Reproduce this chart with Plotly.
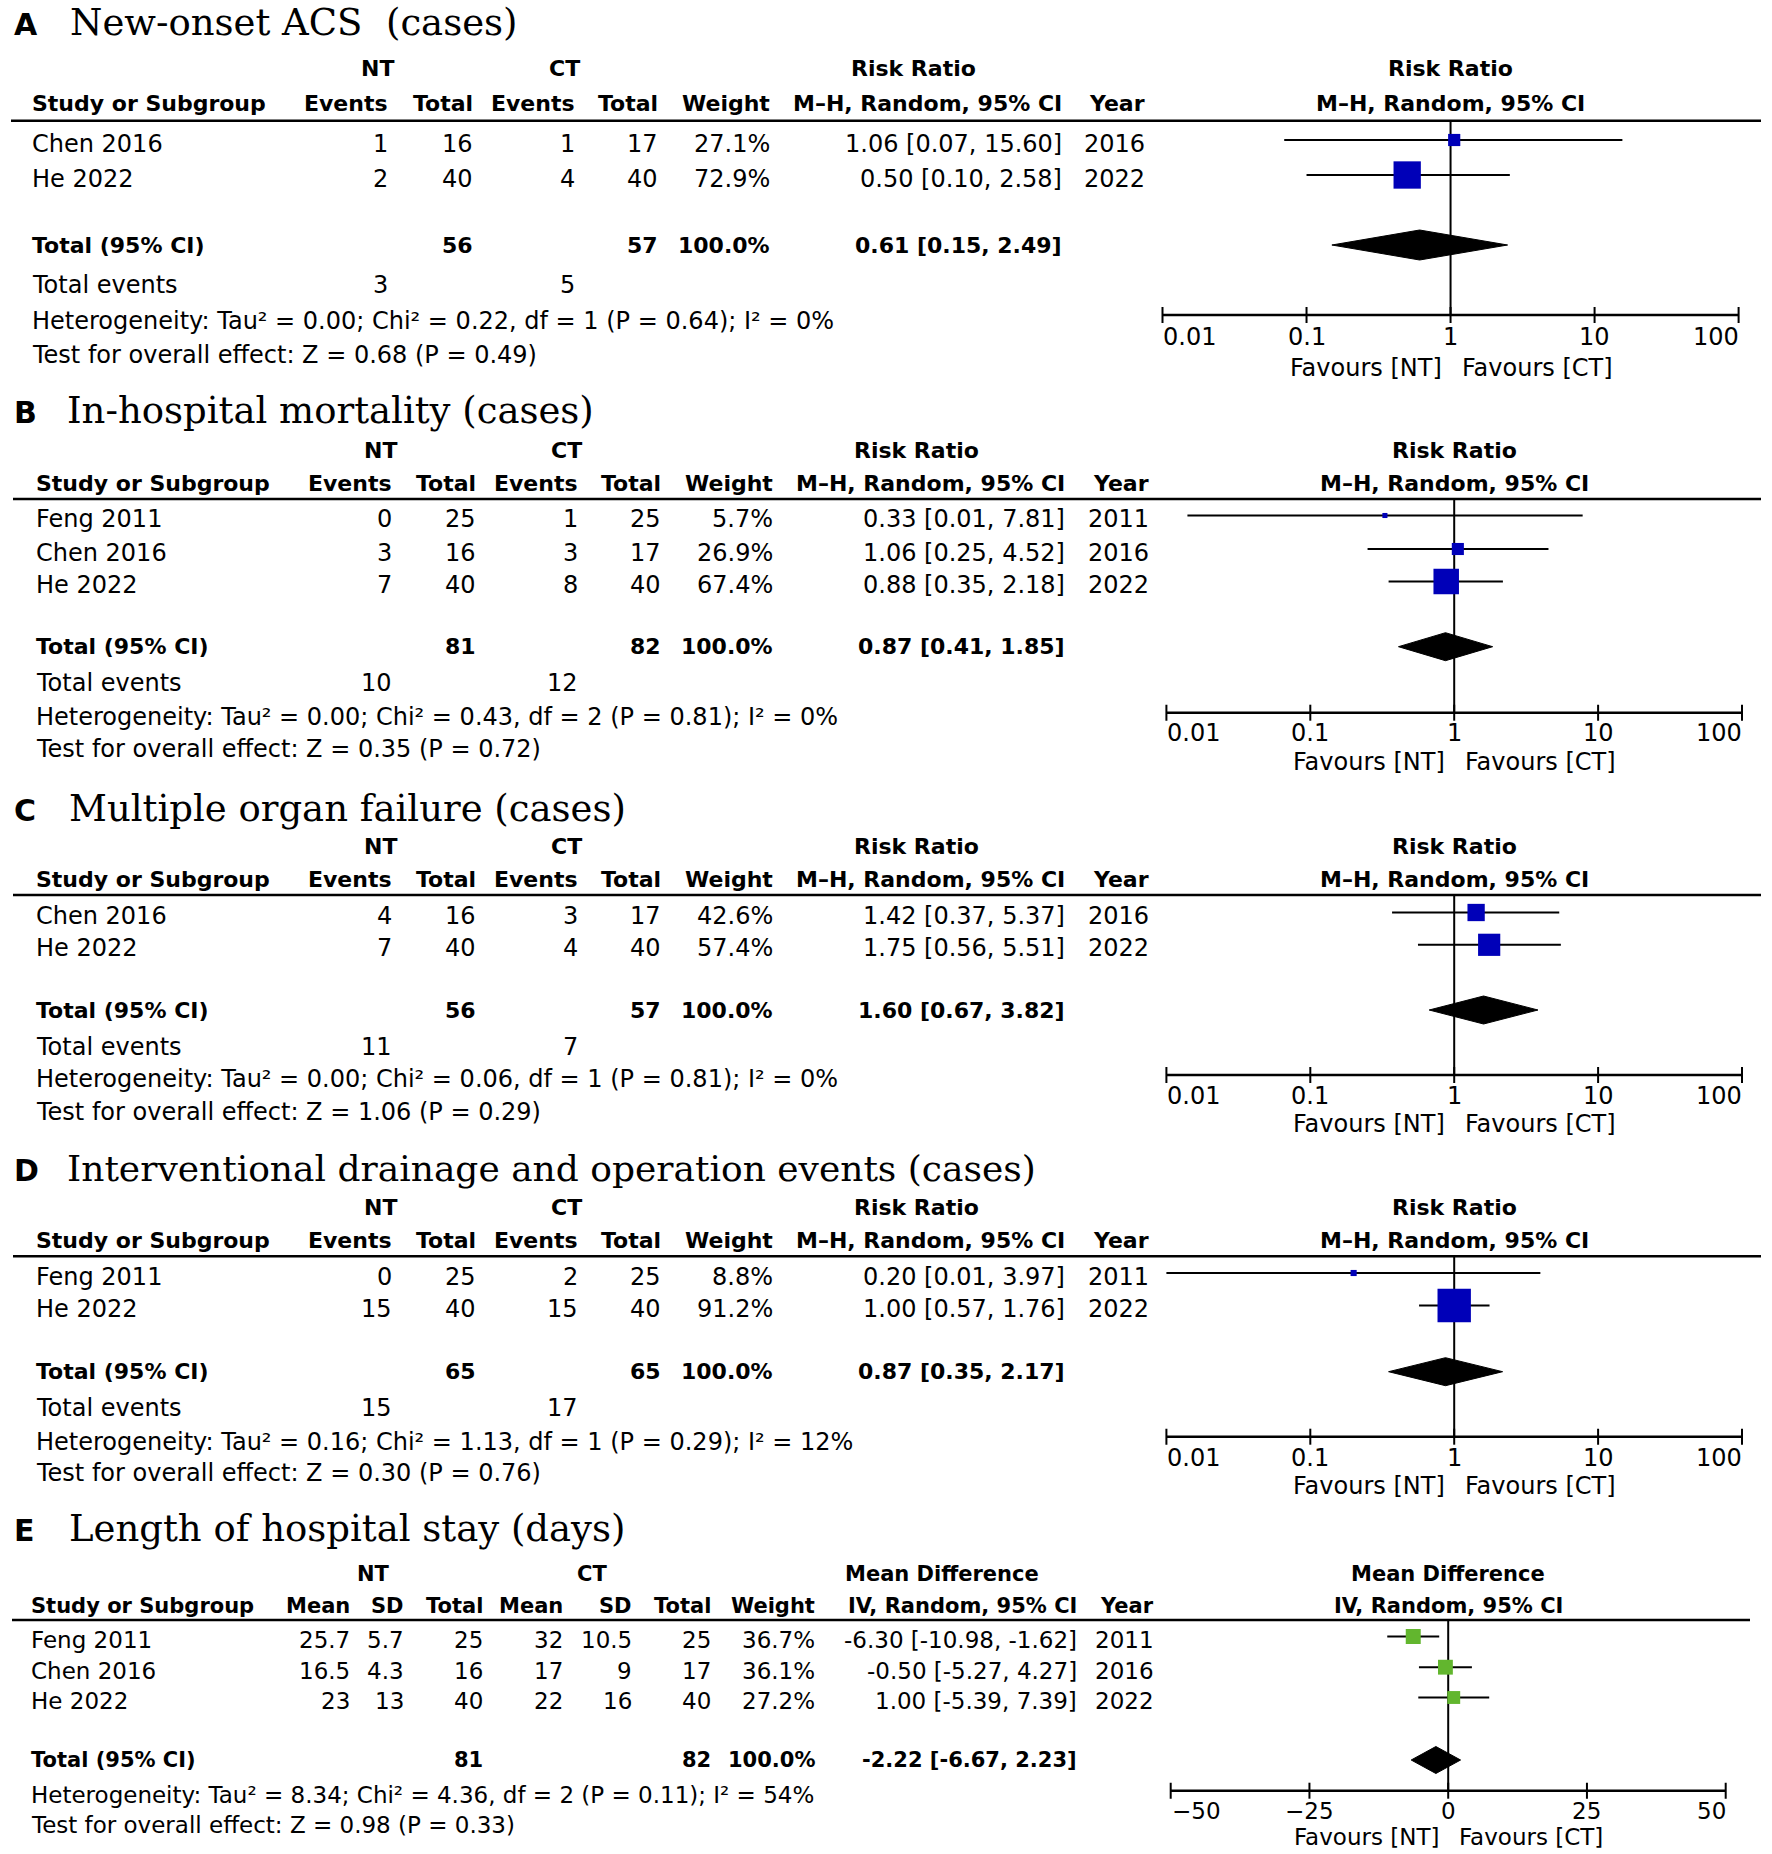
import math
import plotly.graph_objects as go

W, H = 1772, 1854
FONT = "DejaVu Sans"
SERIF = "DejaVu Serif"
BLUE = "#0000b8"
GREEN = "#62b62e"
SIZES = {"reg": 24, "bold": 22}
RSHIFT = 4.5   # right-anchored texts: compensate the annotation box padding

# ---------------- data ----------------
RR_TICKS = [0.01, 0.1, 1, 10, 100]
RR_TICK_LABELS = ["0.01", "0.1", "1", "10", "100"]
MD_TICKS = [-50, -25, 0, 25, 50]
MD_TICK_LABELS = ["\u221250", "\u221225", "0", "25", "50"]

A_title = "New-onset ACS\u00a0\u00a0(cases)"
A_study = ["Chen 2016", "He 2022"]
A_nt_ev = [1, 2]
A_nt_n = [16, 40]
A_ct_ev = [1, 4]
A_ct_n = [17, 40]
A_weight = [27.1, 72.9]
A_rr = [1.06, 0.50]
A_lo = [0.07, 0.10]
A_hi = [15.60, 2.58]
A_year = [2016, 2022]
A_pool = [0.61, 0.15, 2.49]
A_het = "Heterogeneity: Tau\u00b2 = 0.00; Chi\u00b2 = 0.22, df = 1 (P = 0.64); I\u00b2 = 0%"
A_test = "Test for overall effect: Z = 0.68 (P = 0.49)"

B_title = "In-hospital mortality (cases)"
B_study = ["Feng 2011", "Chen 2016", "He 2022"]
B_nt_ev = [0, 3, 7]
B_nt_n = [25, 16, 40]
B_ct_ev = [1, 3, 8]
B_ct_n = [25, 17, 40]
B_weight = [5.7, 26.9, 67.4]
B_rr = [0.33, 1.06, 0.88]
B_lo = [0.014, 0.25, 0.35]
B_hi = [7.81, 4.52, 2.18]
B_year = [2011, 2016, 2022]
B_pool = [0.87, 0.41, 1.85]
B_het = "Heterogeneity: Tau\u00b2 = 0.00; Chi\u00b2 = 0.43, df = 2 (P = 0.81); I\u00b2 = 0%"
B_test = "Test for overall effect: Z = 0.35 (P = 0.72)"

C_title = "Multiple organ failure (cases)"
C_study = ["Chen 2016", "He 2022"]
C_nt_ev = [4, 7]
C_nt_n = [16, 40]
C_ct_ev = [3, 4]
C_ct_n = [17, 40]
C_weight = [42.6, 57.4]
C_rr = [1.42, 1.75]
C_lo = [0.37, 0.56]
C_hi = [5.37, 5.51]
C_year = [2016, 2022]
C_pool = [1.60, 0.67, 3.82]
C_het = "Heterogeneity: Tau\u00b2 = 0.00; Chi\u00b2 = 0.06, df = 1 (P = 0.81); I\u00b2 = 0%"
C_test = "Test for overall effect: Z = 1.06 (P = 0.29)"

D_title = "Interventional drainage and operation events (cases)"
D_study = ["Feng 2011", "He 2022"]
D_nt_ev = [0, 15]
D_nt_n = [25, 40]
D_ct_ev = [2, 15]
D_ct_n = [25, 40]
D_weight = [8.8, 91.2]
D_rr = [0.20, 1.00]
D_lo = [0.01, 0.57]
D_hi = [3.97, 1.76]
D_year = [2011, 2022]
D_pool = [0.87, 0.35, 2.17]
D_het = "Heterogeneity: Tau\u00b2 = 0.16; Chi\u00b2 = 1.13, df = 1 (P = 0.29); I\u00b2 = 12%"
D_test = "Test for overall effect: Z = 0.30 (P = 0.76)"

E_title = "Length of hospital stay (days)"
E_study = ["Feng 2011", "Chen 2016", "He 2022"]
E_nt_mean = [25.7, 16.5, 23]
E_nt_sd = [5.7, 4.3, 13]
E_nt_n = [25, 16, 40]
E_ct_mean = [32, 17, 22]
E_ct_sd = [10.5, 9, 16]
E_ct_n = [25, 17, 40]
E_weight = [36.7, 36.1, 27.2]
E_md = [-6.30, -0.50, 1.00]
E_lo = [-10.98, -5.27, -5.39]
E_hi = [-1.62, 4.27, 7.39]
E_year = [2011, 2016, 2022]
E_pool = [-2.22, -6.67, 2.23]
E_het = "Heterogeneity: Tau\u00b2 = 8.34; Chi\u00b2 = 4.36, df = 2 (P = 0.11); I\u00b2 = 54%"
E_test = "Test for overall effect: Z = 0.98 (P = 0.33)"

# ---------------- layout positions (pixels) ----------------
POS = {
    "A": dict(title=22.5, h1=68, h2=103.5, line=120.7, rows=[143.5, 178.5], total=245,
              events=285, het=321, test=355, axis=315, ticklab=337, fav=368, dh=15),
    "B": dict(title=410, h1=450.7, h2=483, line=499, rows=[519, 552.5, 585], total=646.7,
              events=683.3, het=716.5, test=749.3, axis=712.7, ticklab=733.3, fav=761.7, dh=14),
    "C": dict(title=808.3, h1=846.7, h2=879, line=895, rows=[916, 948.3], total=1010,
              events=1046.7, het=1079, test=1111.7, axis=1075, ticklab=1095.7, fav=1124, dh=14),
    "D": dict(title=1168.3, h1=1207.3, h2=1240, line=1256.3, rows=[1276.5, 1309], total=1371.7,
              events=1408.3, het=1441.7, test=1473.3, axis=1436.7, ticklab=1458.3, fav=1486, dh=14),
    "E": dict(title=1528.3, h1=1574, h2=1606, line=1620, rows=[1640, 1670.7, 1701], total=1760,
              events=None, het=1795, test=1825, axis=1790.7, ticklab=1810.7, fav=1836.7, dh=13.5),
}
COLS_A = dict(study=29.8, c=[385.7, 470.5, 572, 655.6], weight=767.5, ci=1059, year=1142,
              nt=377.7, ct=564.3, hdr=913, letter=12, title=67.7, tsize=37, l0=11, l1=1761,
              ax0=1162.5, ax1=1738.6)
COLS_BCD = dict(study=33.7, c=[389.5, 473, 575, 658], weight=770.5, ci=1062.5, year=1146,
                nt=380.3, ct=566.3, hdr=916, letter=11.5, title=65, tsize=37, l0=13, l1=1761,
                ax0=1166.4, ax1=1742)
COLS_E = dict(study=29, c=[347, 401, 480, 560, 629, 708], weight=812, ci=1074, year=1151,
              nt=373, ct=592, hdr=942, letter=11.5, title=67.3, tsize=37, l0=12, l1=1750,
              ax0=1170.7, ax1=1725.7)

MARK_DY = -3.5

fig = go.Figure()
annotations = []
shapes = []
axes = {}


def T(x, y, s, anchor="left", bold=False, size=None, family=FONT, xref="paper", xshift=0):
    if size is None:
        size = SIZES["bold"] if bold else SIZES["reg"]
    if bold:
        s = f"<b>{s}</b>"
    if xref == "paper":
        if anchor == "right":
            x += RSHIFT
        x = x / W
    annotations.append(dict(
        x=x, y=y, xref=xref, yref="y", text=s,
        showarrow=False, xanchor=anchor, yanchor="middle", xshift=xshift,
        font=dict(family=family, size=size, color="black")))


def fmt(v):
    return f"{v:g}"


def ci_text(e, l, h):
    return f"{e:.2f} [{l:.2f}, {h:.2f}]"


def forest(idx, kind, pos, cols, est, lo, hi, weight, pool, color, sizefn):
    ax = f"x{idx + 2}"
    if kind == "rr":
        ticks, labels = RR_TICKS, RR_TICK_LABELS
        tr = math.log10
        lo_r, hi_r = -2.0, 2.0
        pad = 0.03
        null = 1
        h1, h2 = "Risk Ratio", "M\u2013H, Random, 95% CI"
        xtype = "log"
    else:
        ticks, labels = MD_TICKS, MD_TICK_LABELS
        tr = lambda v: v
        lo_r, hi_r = -50.0, 50.0
        pad = 0.8
        null = 0
        h1, h2 = "Mean Difference", "IV, Random, 95% CI"
        xtype = "linear"
    ppu = (cols["ax1"] - cols["ax0"]) / (hi_r - lo_r)
    axes[f"xaxis{idx + 2}"] = dict(
        domain=[(cols["ax0"] - pad * ppu) / W, (cols["ax1"] + pad * ppu) / W],
        range=[lo_r - pad, hi_r + pad], type=xtype, visible=False, fixedrange=True,
        anchor="y")
    ay = pos["axis"]
    rows = [r + MARK_DY for r in pos["rows"]]
    # null line
    fig.add_trace(go.Scatter(x=[null, null], y=[pos["line"], ay], mode="lines",
                             line=dict(color="black", width=2), xaxis=ax, yaxis="y",
                             hoverinfo="skip"))
    # axis line
    fig.add_trace(go.Scatter(x=[ticks[0], ticks[-1]], y=[ay, ay], mode="lines",
                             line=dict(color="black", width=2.5), xaxis=ax, yaxis="y",
                             hoverinfo="skip"))
    tx, ty = [], []
    for t in ticks:
        tx += [t, t, None]
        ty += [ay - 8, ay + 8, None]
    fig.add_trace(go.Scatter(x=tx, y=ty, mode="lines", line=dict(color="black", width=2),
                             xaxis=ax, yaxis="y", hoverinfo="skip"))
    # CI lines
    cx, cy = [], []
    for l, h, r in zip(lo, hi, rows):
        cx += [l, h, None]
        cy += [r, r, None]
    fig.add_trace(go.Scatter(x=cx, y=cy, mode="lines", line=dict(color="black", width=2),
                             xaxis=ax, yaxis="y", hoverinfo="skip"))
    # squares
    fig.add_trace(go.Scatter(x=est, y=rows, mode="markers", opacity=1,
                             marker=dict(symbol="square", size=[sizefn(w) for w in weight],
                                         color=color, opacity=1, line=dict(width=0)),
                             xaxis=ax, yaxis="y", cliponaxis=False, hoverinfo="skip"))
    # diamond
    pe, pl, ph = pool
    t = pos["total"]
    dh = pos["dh"]
    fig.add_trace(go.Scatter(x=[pl, pe, ph, pe, pl], y=[t, t - dh, t, t + dh, t], mode="lines",
                             fill="toself", fillcolor="black", line=dict(color="black", width=1),
                             xaxis=ax, yaxis="y", hoverinfo="skip"))
    # tick labels
    for i, (tv, lab) in enumerate(zip(ticks, labels)):
        if i == 0:
            anc, sh = "left", -1
        elif i == len(ticks) - 1:
            anc, sh = "right", 2
        else:
            anc, sh = "center", 0
        T(tr(tv), pos["ticklab"], lab, anchor=anc, xref=ax, xshift=sh)
    T(tr(null), pos["fav"], "Favours [NT]", anchor="right", xref=ax, xshift=-7)
    T(tr(null), pos["fav"], "Favours [CT]", anchor="left", xref=ax, xshift=9)
    T(tr(null), pos["h1"], h1, anchor="center", bold=True, xref=ax)
    T(tr(null), pos["h2"], h2, anchor="center", bold=True, xref=ax)


def common(letter, title, pos, cols):
    T(cols["letter"], pos["title"] + 2, letter, bold=True, size=30)
    T(cols["title"], pos["title"], title, family=SERIF, size=cols["tsize"])
    shapes.append(dict(type="line", xref="paper", yref="y", x0=cols["l0"] / W, x1=cols["l1"] / W,
                       y0=pos["line"], y1=pos["line"], line=dict(color="black", width=2.5)))


def rr_panel(idx, letter, title, pos, cols, study, nt_ev, nt_n, ct_ev, ct_n, weight, rr, lo, hi,
             year, pool, het, test):
    common(letter, title, pos, cols)
    c = cols["c"]
    T(cols["nt"], pos["h1"], "NT", anchor="center", bold=True)
    T(cols["ct"], pos["h1"], "CT", anchor="center", bold=True)
    T(cols["hdr"], pos["h1"], "Risk Ratio", anchor="center", bold=True)
    T(cols["study"], pos["h2"], "Study or Subgroup", bold=True)
    for x, s in zip(c, ["Events", "Total", "Events", "Total"]):
        T(x, pos["h2"], s, anchor="right", bold=True)
    T(cols["weight"], pos["h2"], "Weight", anchor="right", bold=True)
    T(cols["ci"], pos["h2"], "M\u2013H, Random, 95% CI", anchor="right", bold=True)
    T(cols["year"], pos["h2"], "Year", anchor="right", bold=True)
    for i, y in enumerate(pos["rows"]):
        T(cols["study"], y, study[i])
        for x, v in zip(c, [nt_ev[i], nt_n[i], ct_ev[i], ct_n[i]]):
            T(x, y, fmt(v), anchor="right")
        T(cols["weight"], y, f"{weight[i]:.1f}%", anchor="right")
        T(cols["ci"], y, ci_text(rr[i], lo[i], hi[i]), anchor="right")
        T(cols["year"], y, str(year[i]), anchor="right")
    y = pos["total"]
    T(cols["study"], y, "Total (95% CI)", bold=True)
    T(c[1], y, str(sum(nt_n)), anchor="right", bold=True)
    T(c[3], y, str(sum(ct_n)), anchor="right", bold=True)
    T(cols["weight"], y, f"{sum(weight):.1f}%", anchor="right", bold=True)
    T(cols["ci"], y, ci_text(*pool), anchor="right", bold=True)
    y = pos["events"]
    T(cols["study"], y, "Total events")
    T(c[0], y, str(sum(nt_ev)), anchor="right")
    T(c[2], y, str(sum(ct_ev)), anchor="right")
    T(cols["study"], pos["het"], het)
    T(cols["study"], pos["test"], test)
    forest(idx, "rr", pos, cols, rr, lo, hi, weight, pool, BLUE, lambda w: 3.2 + 0.331 * w)


rr_panel(0, "A", A_title, POS["A"], COLS_A, A_study, A_nt_ev, A_nt_n, A_ct_ev, A_ct_n,
         A_weight, A_rr, A_lo, A_hi, A_year, A_pool, A_het, A_test)
rr_panel(1, "B", B_title, POS["B"], COLS_BCD, B_study, B_nt_ev, B_nt_n, B_ct_ev, B_ct_n,
         B_weight, B_rr, B_lo, B_hi, B_year, B_pool, B_het, B_test)
rr_panel(2, "C", C_title, POS["C"], dict(COLS_BCD, title=67), C_study, C_nt_ev, C_nt_n,
         C_ct_ev, C_ct_n, C_weight, C_rr, C_lo, C_hi, C_year, C_pool, C_het, C_test)
rr_panel(3, "D", D_title, POS["D"], dict(COLS_BCD, tsize=36), D_study, D_nt_ev, D_nt_n,
         D_ct_ev, D_ct_n, D_weight, D_rr, D_lo, D_hi, D_year, D_pool, D_het, D_test)

# ---- panel E (mean difference) ----
SIZES = {"reg": 23, "bold": 21}
pos, cols = POS["E"], COLS_E
common("E", E_title, pos, cols)
c = cols["c"]
T(cols["nt"], pos["h1"], "NT", anchor="center", bold=True)
T(cols["ct"], pos["h1"], "CT", anchor="center", bold=True)
T(cols["hdr"], pos["h1"], "Mean Difference", anchor="center", bold=True)
T(cols["study"], pos["h2"], "Study or Subgroup", bold=True)
for x, s in zip(c, ["Mean", "SD", "Total", "Mean", "SD", "Total"]):
    T(x, pos["h2"], s, anchor="right", bold=True)
T(cols["weight"], pos["h2"], "Weight", anchor="right", bold=True)
T(cols["ci"], pos["h2"], "IV, Random, 95% CI", anchor="right", bold=True)
T(cols["year"], pos["h2"], "Year", anchor="right", bold=True)
for i, y in enumerate(pos["rows"]):
    T(cols["study"], y, E_study[i])
    vals = [E_nt_mean[i], E_nt_sd[i], E_nt_n[i], E_ct_mean[i], E_ct_sd[i], E_ct_n[i]]
    for x, v in zip(c, vals):
        T(x, y, fmt(v), anchor="right")
    T(cols["weight"], y, f"{E_weight[i]:.1f}%", anchor="right")
    T(cols["ci"], y, ci_text(E_md[i], E_lo[i], E_hi[i]), anchor="right")
    T(cols["year"], y, str(E_year[i]), anchor="right")
y = pos["total"]
T(cols["study"], y, "Total (95% CI)", bold=True)
T(c[2], y, str(sum(E_nt_n)), anchor="right", bold=True)
T(c[5], y, str(sum(E_ct_n)), anchor="right", bold=True)
T(cols["weight"], y, f"{sum(E_weight):.1f}%", anchor="right", bold=True)
T(cols["ci"], y, ci_text(*E_pool), anchor="right", bold=True)
T(cols["study"], pos["het"], E_het)
T(cols["study"], pos["test"], E_test)
forest(4, "md", pos, cols, E_md, E_lo, E_hi, E_weight, E_pool, GREEN, lambda w: 6.9 + 0.22 * w)

fig.update_layout(
    width=W, height=H, margin=dict(l=0, r=0, t=0, b=0),
    paper_bgcolor="white", plot_bgcolor="rgba(0,0,0,0)", showlegend=False,
    yaxis=dict(domain=[0, 1], range=[H, 0], visible=False, fixedrange=True, anchor="x2"),
    annotations=annotations, shapes=shapes, **axes)

fig.write_html("out.html", config={"displayModeBar": False, "staticPlot": True},
               post_script="document.body.style.margin='0px';")
